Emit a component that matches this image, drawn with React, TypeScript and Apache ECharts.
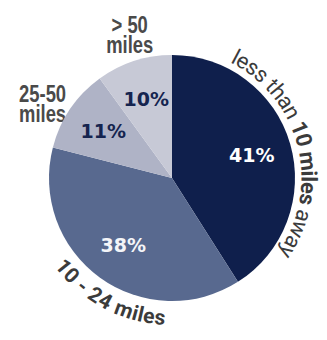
import React, { useEffect, useRef } from "react";
import * as echarts from "echarts";

// Share of respondents by travel distance
const categories = ["less than 10 miles away", "10 - 24 miles", "25-50 miles", "> 50 miles"];
const shares = [41, 38, 11, 10];
const sliceColors = ["#0f1f4c", "#58698f", "#afb3c6", "#c7c9d6"];
const valueLabelColors = ["#ffffff", "#f4f5f8", "#15244f", "#15244f"];

// Pie geometry (pixels)
const CX = 172;
const CY = 178;
const R = 123;

const GREY = "#4a4a4a";
const ARC_FONT = "Roboto, 'Noto Sans', sans-serif";
const NARROW_FONT = "'Liberation Sans', Arial, sans-serif";

type Run = { text: string; weight: string };

let measureCtx: CanvasRenderingContext2D | null = null;
function textWidth(text: string, font: string): number {
  if (!measureCtx) measureCtx = document.createElement("canvas").getContext("2d");
  measureCtx!.font = font;
  return measureCtx!.measureText(text).width;
}

// Lays characters along a circle around the pie centre.
// dir = 1 reads clockwise (letters face outward), dir = -1 reads
// counter-clockwise with letter tops pointing at the centre.
function arcLabel(runs: Run[], size: number, radius: number, midDeg: number, dir: 1 | -1, color: string) {
  const chars: { ch: string; weight: string; w: number }[] = [];
  let total = 0;
  runs.forEach((run) => {
    for (const ch of run.text) {
      const font = `${run.weight} ${size}px ${ARC_FONT}`;
      const w = textWidth(ch, font);
      chars.push({ ch, weight: run.weight, w });
      total += w;
    }
  });
  const mid = (midDeg * Math.PI) / 180;
  const start = mid - (dir * total) / 2 / radius;
  let acc = 0;
  return chars.map((c) => {
    const a = start + (dir * (acc + c.w / 2)) / radius;
    acc += c.w;
    const x = CX + radius * Math.sin(a);
    const y = CY - radius * Math.cos(a);
    const rotation = dir === 1 ? -a : -(a - Math.PI);
    return {
      type: "text",
      x,
      y,
      rotation,
      silent: true,
      style: {
        text: c.ch,
        fontSize: size,
        fontWeight: c.weight,
        fontFamily: ARC_FONT,
        fill: color,
        align: "center",
        verticalAlign: "middle",
        textAlign: "center",
        textVerticalAlign: "middle",
      },
    };
  });
}

function midAngleDeg(index: number): number {
  const sum = shares.reduce((s, v) => s + v, 0);
  const before = shares.slice(0, index).reduce((s, v) => s + v, 0);
  return ((before + shares[index] / 2) / sum) * 360;
}

export default function App() {
  const ref = useRef<HTMLDivElement>(null);

  useEffect(() => {
    if (!ref.current) return;
    const chart = echarts.init(ref.current, undefined, { renderer: "svg" });

    const pieData = categories.map((name, i) => ({
      name,
      value: shares[i],
      itemStyle: { color: sliceColors[i] },
    }));

    const labelData = categories.map((name, i) => ({
      name,
      value: shares[i],
      label: { color: valueLabelColors[i] },
    }));

    // Straight two-line labels for the two smaller slices, condensed horizontally
    const straightLabels = [
      { i: 2, shift: -4.5 },
      { i: 3, shift: 1.5 },
    ].map(({ i, shift }) => {
      const a = ((midAngleDeg(i) + shift) * Math.PI) / 180;
      const r = 149;
      return {
        type: "text",
        x: CX + r * Math.sin(a),
        y: CY - r * Math.cos(a),
        scaleX: 0.8,
        silent: true,
        style: {
          text: categories[i].replace(" miles", "\nmiles"),
          fontSize: 23,
          fontWeight: "bold",
          fontFamily: NARROW_FONT,
          lineHeight: 20,
          fill: GREY,
          align: "center",
          verticalAlign: "middle",
          textAlign: "center",
          textVerticalAlign: "middle",
        },
      };
    });

    const rightArc = arcLabel(
      [
        { text: "less than ", weight: "normal" },
        { text: "10 miles", weight: "bold" },
        { text: " away", weight: "normal" },
      ],
      22,
      137,
      midAngleDeg(0) + 2,
      1,
      "#3b3b3b"
    );

    const bottomArc = arcLabel([{ text: categories[1], weight: "bold" }], 21, 140, 208, -1, "#3b3b3b");

    chart.setOption({
      animation: false,
      backgroundColor: "#ffffff",
      series: [
        {
          type: "pie",
          center: [CX, CY],
          radius: [0, R],
          startAngle: 90,
          clockwise: true,
          silent: true,
          label: { show: false },
          labelLine: { show: false },
          itemStyle: { borderWidth: 0 },
          data: pieData,
        },
        {
          type: "pie",
          center: [CX, CY],
          radius: [42, 118],
          startAngle: 90,
          clockwise: true,
          silent: true,
          itemStyle: { color: "transparent", borderWidth: 0 },
          labelLine: { show: false },
          label: {
            show: true,
            position: "inside",
            formatter: "{c}%",
            fontFamily: "'DejaVu Sans', sans-serif",
            fontWeight: "bold",
            fontSize: 19,
          },
          data: labelData,
        },
      ],
      graphic: [...straightLabels, ...rightArc, ...bottomArc],
    });

    return () => chart.dispose();
  }, []);

  return (
    <div
      ref={ref}
      style={{ position: "fixed", left: 0, top: 0, width: 327, height: 340, background: "#ffffff" }}
    />
  );
}
